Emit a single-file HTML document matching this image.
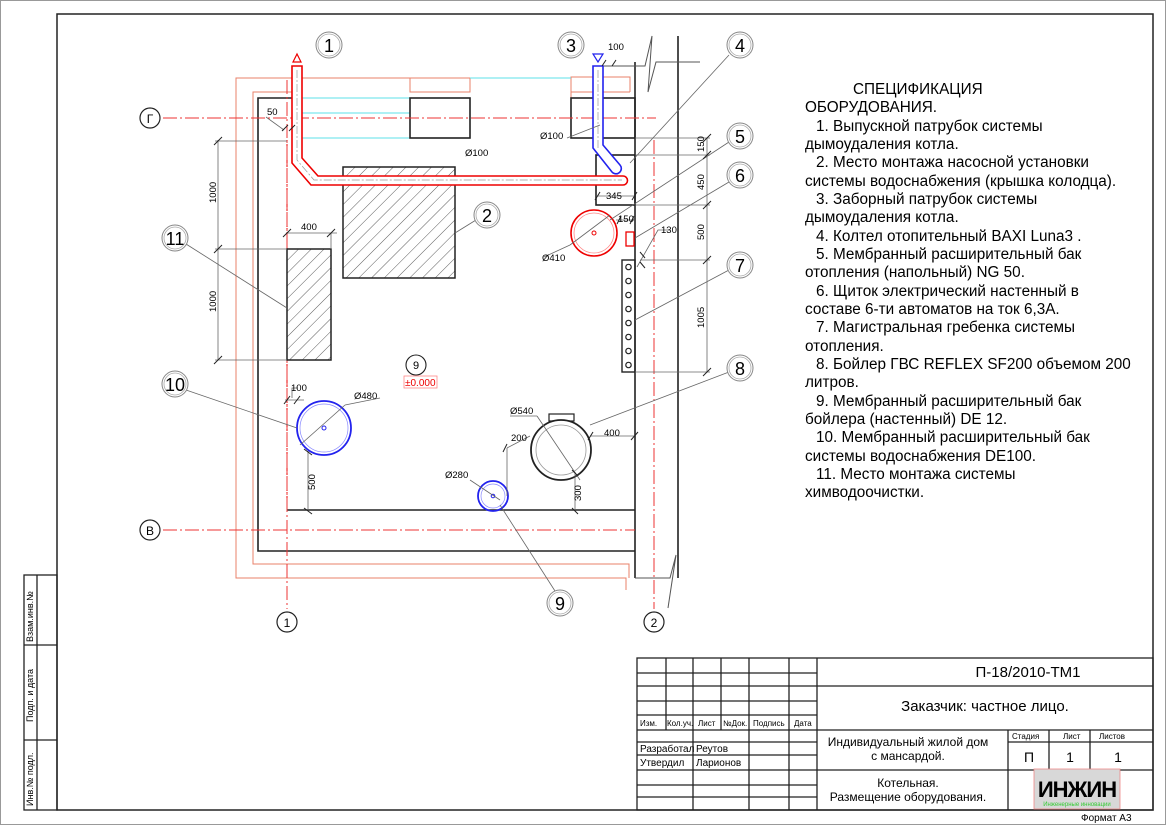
<!DOCTYPE html>
<html><head><meta charset="utf-8"><style>
html,body{margin:0;padding:0;background:#fff}
svg{display:block}
text{font-family:"Liberation Sans","Noto Sans CJK SC",sans-serif;fill:#000}
</style></head><body>
<svg width="1166" height="825" viewBox="0 0 1166 825" xmlns="http://www.w3.org/2000/svg">
<defs>
<pattern id="h" patternUnits="userSpaceOnUse" width="9" height="9" patternTransform="rotate(45)"><line x1="0" y1="0" x2="0" y2="9" stroke="#333" stroke-width="0.8"/></pattern>
</defs>
<!-- frames -->
<rect x="0.5" y="0.5" width="1165" height="824" fill="none" stroke="#999" stroke-width="1"/>
<rect x="57" y="14" width="1096" height="796" fill="none" stroke="#222" stroke-width="1.5"/>
<rect x="24" y="575" width="33" height="235" fill="none" stroke="#222" stroke-width="1.3"/>
<line x1="37" y1="575" x2="37" y2="810" stroke="#222" stroke-width="1.3"/>
<line x1="24" y1="645" x2="57" y2="645" stroke="#222" stroke-width="1.3"/>
<line x1="24" y1="740" x2="57" y2="740" stroke="#222" stroke-width="1.3"/>
<g font-size="9">
<text transform="translate(33,642) rotate(-90)">Взам.инв.№</text>
<text transform="translate(33,722) rotate(-90)">Подп. и дата</text>
<text transform="translate(33,806) rotate(-90)">Инв.№ подл.</text>
</g>

<!-- salmon outer lines -->
<g fill="none" stroke="#e8806a" stroke-width="1">
<polyline points="470,78 236,78 236,578 626,578 626,590"/>
<polyline points="296,92 253,92 253,564 629,564 629,578"/>
<rect x="410" y="78" width="60" height="14"/>
<polyline points="571,98 571,77 630,77 630,92"/>
<line x1="571" y1="92" x2="630" y2="92"/>
</g>
<!-- cyan -->
<g stroke="#5ee0e8" stroke-width="1">
<line x1="300" y1="98" x2="410" y2="98"/>
<line x1="300" y1="113" x2="410" y2="113"/>
<line x1="300" y1="138" x2="410" y2="138"/>
<line x1="470" y1="78" x2="571" y2="78"/>
</g>
<!-- walls -->
<g fill="none" stroke="#222" stroke-width="1.6">
<polyline points="292,98 258,98 258,551 635,551"/>
<line x1="287" y1="510" x2="635" y2="510"/>
<line x1="635" y1="62" x2="635" y2="578"/>
<line x1="678" y1="36" x2="678" y2="578"/>
<rect x="410" y="98" width="60" height="40"/>
<rect x="571" y="98" width="64" height="40"/>
<rect x="596" y="155" width="39" height="50"/>
</g>
<g fill="none" stroke="#555" stroke-width="1">
<polyline points="600,66 645,66 652,36 648,92 656,62 700,62"/>
<polyline points="635,578 670,578 676,555 668,608"/>
</g>
<!-- red inner dashed wall line -->
<line x1="287" y1="140" x2="287" y2="510" stroke="#e00" stroke-width="1" stroke-dasharray="3,1"/>
<!-- axes -->
<g stroke="#e33" stroke-width="1" stroke-dasharray="14,3,2,3" fill="none">
<line x1="163" y1="118" x2="656" y2="118"/>
<line x1="163" y1="530" x2="635" y2="530"/>
<line x1="287" y1="80" x2="287" y2="609"/>
<line x1="654" y1="140" x2="654" y2="609"/>
</g>
<g fill="#fff" stroke="#222" stroke-width="1.2">
<circle cx="150" cy="118" r="10"/><circle cx="150" cy="530" r="10"/>
<circle cx="287" cy="622" r="10"/><circle cx="654" cy="622" r="10"/>
</g>
<g font-size="12" text-anchor="middle">
<text x="150" y="123">Г</text><text x="150" y="535">В</text>
<text x="287" y="627">1</text><text x="654" y="627">2</text>
</g>

<!-- hatched equipment -->
<rect x="343" y="167" width="112" height="111" fill="url(#h)" stroke="#222" stroke-width="1.5"/>
<rect x="287" y="249" width="44" height="111" fill="url(#h)" stroke="#222" stroke-width="1.5"/>

<!-- flue pipe red -->
<g fill="none" stroke="#e00" stroke-width="1.6">
<path d="M292,66 V163 L311,185 H623 A4.5,4.5 0 0 0 623,176 H318 L302,158 V66 Z" fill="#fff"/>
</g>
<g stroke="#999" stroke-width="0.7" stroke-dasharray="8,2,2,2" fill="none">
<polyline points="297,70 297,160 314,180 622,180"/>
</g>
<path d="M293,62 L297,54 L301,62 Z" fill="none" stroke="#e00" stroke-width="1.2"/>
<!-- blue pipe -->
<path d="M593,66 V148 L612,172 A5,5 0 0 0 620,165 L603,145 V66 Z" fill="#fff" stroke="#22e" stroke-width="1.6"/>
<line x1="598" y1="70" x2="598" y2="148" stroke="#999" stroke-width="0.7" stroke-dasharray="8,2,2,2"/>
<path d="M593,54 L603,54 L598,62 Z" fill="none" stroke="#22e" stroke-width="1.2"/>

<!-- red circle 5 -->
<circle cx="594" cy="233" r="23" fill="none" stroke="#e00" stroke-width="1.6"/>
<circle cx="594" cy="233" r="20" fill="none" stroke="#f88" stroke-width="0.8"/>
<circle cx="594" cy="233" r="2" fill="none" stroke="#e00"/>
<rect x="626" y="232" width="8" height="14" fill="none" stroke="#e00" stroke-width="1.3"/>
<!-- comb -->
<rect x="622" y="260" width="13" height="112" fill="none" stroke="#222" stroke-width="1.4"/>
<g fill="none" stroke="#222" stroke-width="1.2">
<circle cx="628.5" cy="267" r="2.7"/><circle cx="628.5" cy="281" r="2.7"/><circle cx="628.5" cy="295" r="2.7"/><circle cx="628.5" cy="309" r="2.7"/><circle cx="628.5" cy="323" r="2.7"/><circle cx="628.5" cy="337" r="2.7"/><circle cx="628.5" cy="351" r="2.7"/><circle cx="628.5" cy="365" r="2.7"/>
</g>
<!-- circles 10, 8, 9 -->
<circle cx="324" cy="428" r="27" fill="none" stroke="#22e" stroke-width="1.8"/>
<circle cx="324" cy="428" r="24" fill="none" stroke="#88f" stroke-width="0.7"/>
<circle cx="324" cy="428" r="2" fill="none" stroke="#22e"/>
<rect x="549" y="414" width="25" height="7" fill="#fff" stroke="#222" stroke-width="1.2"/>
<circle cx="561" cy="450" r="30" fill="#fff" stroke="#222" stroke-width="1.8"/>
<circle cx="561" cy="450" r="25" fill="none" stroke="#999" stroke-width="0.8"/>
<circle cx="493" cy="496" r="15" fill="none" stroke="#22e" stroke-width="1.8"/>
<circle cx="493" cy="496" r="12" fill="none" stroke="#88f" stroke-width="0.7"/>
<circle cx="493" cy="496" r="1.8" fill="none" stroke="#22e"/>

<!-- dimension & leader lines -->
<g stroke="#666" stroke-width="0.8" fill="none">
<line x1="218" y1="140" x2="218" y2="360"/>
<line x1="215" y1="141" x2="287" y2="141"/><line x1="215" y1="249" x2="287" y2="249"/><line x1="215" y1="360" x2="287" y2="360"/>
<line x1="287" y1="233" x2="337" y2="233"/><line x1="331" y1="233" x2="331" y2="249"/>
<polyline points="266,117 284,130"/>
<line x1="707" y1="138" x2="707" y2="372"/>
<line x1="635" y1="138" x2="710" y2="138"/><line x1="635" y1="155" x2="710" y2="155"/><line x1="635" y1="205" x2="710" y2="205"/><line x1="640" y1="260" x2="710" y2="260"/><line x1="635" y1="372" x2="710" y2="372"/>
<line x1="596" y1="196" x2="635" y2="196"/>
<polyline points="637,267 658,230 670,230"/>
<line x1="616" y1="220" x2="634" y2="220"/>
<polyline points="292,398 292,388 298,388"/>
<line x1="285" y1="400" x2="304" y2="400"/>
<line x1="308" y1="451" x2="308" y2="510"/>
<line x1="507" y1="448" x2="507" y2="496"/><line x1="507" y1="448" x2="530" y2="436"/>
<line x1="590" y1="436" x2="635" y2="436"/>
<line x1="575" y1="472" x2="575" y2="510"/>
<line x1="300" y1="445" x2="345" y2="405"/><line x1="345" y1="405" x2="380" y2="398"/>
<line x1="537" y1="416" x2="580" y2="480"/><line x1="510" y1="416" x2="537" y2="416"/>
<line x1="470" y1="480" x2="500" y2="500"/>
<line x1="570" y1="245" x2="610" y2="215"/>
<line x1="544" y1="257" x2="570" y2="245"/>
<line x1="567" y1="138" x2="600" y2="125"/>
<!-- leaders -->
<line x1="186" y1="244" x2="287" y2="308"/>
<line x1="186" y1="390" x2="297" y2="428"/>
<line x1="476" y1="220" x2="455" y2="233"/>
<line x1="729" y1="55" x2="630" y2="163"/>
<line x1="729" y1="142" x2="610" y2="220"/>
<line x1="729" y1="182" x2="635" y2="238"/>
<line x1="729" y1="270" x2="635" y2="320"/>
<line x1="729" y1="372" x2="590" y2="425"/>
<line x1="555" y1="591" x2="500" y2="505"/>
</g>
<!-- ticks -->
<g stroke="#222" stroke-width="1">
<line x1="214" y1="145" x2="222" y2="137"/><line x1="214" y1="253" x2="222" y2="245"/><line x1="214" y1="364" x2="222" y2="356"/>
<line x1="283" y1="237" x2="291" y2="229"/><line x1="327" y1="237" x2="335" y2="229"/>
<line x1="282" y1="131" x2="288" y2="125"/><line x1="289" y1="131" x2="295" y2="125"/>
<line x1="703" y1="142" x2="711" y2="134"/><line x1="703" y1="159" x2="711" y2="151"/><line x1="703" y1="209" x2="711" y2="201"/><line x1="703" y1="264" x2="711" y2="256"/><line x1="703" y1="376" x2="711" y2="368"/>
<line x1="595" y1="200" x2="600" y2="192"/><line x1="632" y1="200" x2="637" y2="192"/>
<line x1="617" y1="224" x2="621" y2="216"/><line x1="630" y1="224" x2="634" y2="216"/>
<line x1="640" y1="252" x2="645" y2="258"/><line x1="640" y1="262" x2="645" y2="268"/>
<line x1="284" y1="404" x2="290" y2="396"/><line x1="294" y1="404" x2="300" y2="396"/>
<line x1="304" y1="449" x2="312" y2="455"/><line x1="304" y1="508" x2="312" y2="514"/>
<line x1="503" y1="452" x2="507" y2="444"/><line x1="631" y1="440" x2="638" y2="432"/><line x1="588" y1="440" x2="593" y2="432"/>
<line x1="572" y1="470" x2="578" y2="476"/><line x1="572" y1="508" x2="578" y2="514"/>
<line x1="602" y1="66" x2="606" y2="60"/><line x1="612" y1="66" x2="616" y2="60"/>
</g>
<!-- dim text -->
<g font-size="9.5" fill="#111">
<text x="267" y="115">50</text>
<text x="301" y="230">400</text>
<text x="465" y="156">Ø100</text>
<text x="540" y="139">Ø100</text>
<text x="608" y="50">100</text>
<text x="606" y="199">345</text>
<text x="618" y="222">150</text>
<text x="661" y="233">130</text>
<text x="542" y="261">Ø410</text>
<text x="291" y="391">100</text>
<text x="354" y="399">Ø480</text>
<text x="510" y="414">Ø540</text>
<text x="511" y="441">200</text>
<text x="604" y="436">400</text>
<text x="445" y="478">Ø280</text>
<text transform="translate(216,203) rotate(-90)">1000</text>
<text transform="translate(216,312) rotate(-90)">1000</text>
<text transform="translate(704,152) rotate(-90)">150</text>
<text transform="translate(704,190) rotate(-90)">450</text>
<text transform="translate(704,240) rotate(-90)">500</text>
<text transform="translate(704,328) rotate(-90)">1005</text>
<text transform="translate(315,490) rotate(-90)">500</text>
<text transform="translate(581,501) rotate(-90)">300</text>
</g>
<!-- level mark -->
<circle cx="416" cy="365" r="10" fill="none" stroke="#222" stroke-width="1.1"/>
<text x="416" y="369" font-size="11" text-anchor="middle">9</text>
<rect x="404" y="376" width="33" height="12" fill="none" stroke="#f88" stroke-width="0.8"/>
<text x="405" y="386" font-size="10" fill="#e00" style="fill:#e00">±0.000</text>

<!-- bubbles -->
<g fill="#fff" stroke="#888" stroke-width="1">
<circle cx="329" cy="45" r="13"/><circle cx="571" cy="45" r="13"/><circle cx="740" cy="45" r="13"/>
<circle cx="740" cy="136" r="13"/><circle cx="740" cy="175" r="13"/><circle cx="740" cy="265" r="13"/>
<circle cx="740" cy="368" r="13"/><circle cx="487" cy="215" r="13"/><circle cx="175" cy="238" r="13"/>
<circle cx="175" cy="384" r="13"/><circle cx="560" cy="603" r="13"/>
</g>
<g fill="none" stroke="#aaa" stroke-width="0.8">
<circle cx="329" cy="45" r="11"/><circle cx="571" cy="45" r="11"/><circle cx="740" cy="45" r="11"/>
<circle cx="740" cy="136" r="11"/><circle cx="740" cy="175" r="11"/><circle cx="740" cy="265" r="11"/>
<circle cx="740" cy="368" r="11"/><circle cx="487" cy="215" r="11"/><circle cx="175" cy="238" r="11"/>
<circle cx="175" cy="384" r="11"/><circle cx="560" cy="603" r="11"/>
</g>
<g font-size="18" text-anchor="middle">
<text x="329" y="52">1</text><text x="571" y="52">3</text><text x="740" y="52">4</text>
<text x="740" y="143">5</text><text x="740" y="182">6</text><text x="740" y="272">7</text>
<text x="740" y="375">8</text><text x="487" y="222">2</text><text x="175" y="245">11</text>
<text x="175" y="391">10</text><text x="560" y="610">9</text>
</g>

<!-- specification -->
<g font-size="15.3">
<text x="853" y="94">СПЕЦИФИКАЦИЯ</text>
<text x="805" y="112">ОБОРУДОВАНИЯ.</text>
<text x="816" y="131">1. Выпускной патрубок системы</text>
<text x="805" y="149">дымоудаления котла.</text>
<text x="816" y="167">2. Место монтажа насосной установки</text>
<text x="805" y="186">системы водоснабжения (крышка колодца).</text>
<text x="816" y="204">3. Заборный патрубок системы</text>
<text x="805" y="222">дымоудаления котла.</text>
<text x="816" y="241">4. Колтел отопительный BAXI Luna3 .</text>
<text x="816" y="259">5. Мембранный расширительный бак</text>
<text x="805" y="277">отопления (напольный) NG 50.</text>
<text x="816" y="296">6. Щиток электрический настенный в</text>
<text x="805" y="314">составе 6-ти автоматов на ток 6,3А.</text>
<text x="816" y="332">7. Магистральная гребенка системы</text>
<text x="805" y="351">отопления.</text>
<text x="816" y="369">8. Бойлер ГВС REFLEX SF200 объемом 200</text>
<text x="805" y="387">литров.</text>
<text x="816" y="406">9. Мембранный расширительный бак</text>
<text x="805" y="424">бойлера (настенный) DE 12.</text>
<text x="816" y="442">10. Мембранный расширительный бак</text>
<text x="805" y="461">системы водоснабжения DE100.</text>
<text x="816" y="479">11. Место монтажа системы</text>
<text x="805" y="497">химводоочистки.</text>
</g>

<!-- title block -->
<g stroke="#222" stroke-width="1.3" fill="none">
<rect x="637" y="658" width="516" height="152"/>
<line x1="666" y1="658" x2="666" y2="730"/><line x1="693" y1="658" x2="693" y2="810"/><line x1="721" y1="658" x2="721" y2="730"/>
<line x1="749" y1="658" x2="749" y2="810"/><line x1="789" y1="658" x2="789" y2="810"/><line x1="817" y1="658" x2="817" y2="810"/>
<line x1="637" y1="673" x2="817" y2="673"/><line x1="637" y1="686" x2="1153" y2="686"/><line x1="637" y1="701" x2="817" y2="701"/>
<line x1="637" y1="715" x2="817" y2="715"/><line x1="637" y1="730" x2="1153" y2="730"/><line x1="637" y1="742" x2="817" y2="742"/>
<line x1="637" y1="755" x2="817" y2="755"/><line x1="637" y1="770" x2="1153" y2="770"/><line x1="637" y1="785" x2="817" y2="785"/>
<line x1="637" y1="797" x2="817" y2="797"/>
<line x1="1008" y1="730" x2="1008" y2="810"/><line x1="1049" y1="730" x2="1049" y2="770"/><line x1="1090" y1="730" x2="1090" y2="770"/>
<line x1="1008" y1="742" x2="1153" y2="742"/>
</g>
<g font-size="8">
<text x="640" y="726">Изм.</text><text x="667" y="726">Кол.уч.</text><text x="698" y="726">Лист</text><text x="723" y="726">№Док.</text><text x="753" y="726">Подпись</text><text x="794" y="726">Дата</text>
<text x="1012" y="739">Стадия</text><text x="1063" y="739">Лист</text><text x="1099" y="739">Листов</text>
</g>
<g font-size="10">
<text x="640" y="752">Разработал</text><text x="696" y="752">Реутов</text>
<text x="640" y="766">Утвердил</text><text x="696" y="766">Ларионов</text>
</g>
<text x="1028" y="677" font-size="15" text-anchor="middle">П-18/2010-ТМ1</text>
<text x="985" y="711" font-size="15" text-anchor="middle">Заказчик: частное лицо.</text>
<text x="908" y="746" font-size="12" text-anchor="middle">Индивидуальный жилой дом</text>
<text x="908" y="760" font-size="12" text-anchor="middle">с  мансардой.</text>
<text x="1029" y="762" font-size="14" text-anchor="middle">П</text>
<text x="1070" y="762" font-size="14" text-anchor="middle">1</text>
<text x="1118" y="762" font-size="14" text-anchor="middle">1</text>
<text x="908" y="787" font-size="12" text-anchor="middle">Котельная.</text>
<text x="908" y="801" font-size="12" text-anchor="middle">Размещение оборудования.</text>
<rect x="1034" y="769" width="86" height="40" fill="#d8d8d8" stroke="#e88" stroke-width="0.8"/>
<text x="1077" y="797" font-size="22" font-weight="bold" text-anchor="middle" letter-spacing="-1">ИНЖИН</text>
<text x="1077" y="806" font-size="6" text-anchor="middle" style="fill:#3c3">Инженерные инновации</text>
<text x="1081" y="821" font-size="10">Формат А3</text>
</svg>
</body></html>
